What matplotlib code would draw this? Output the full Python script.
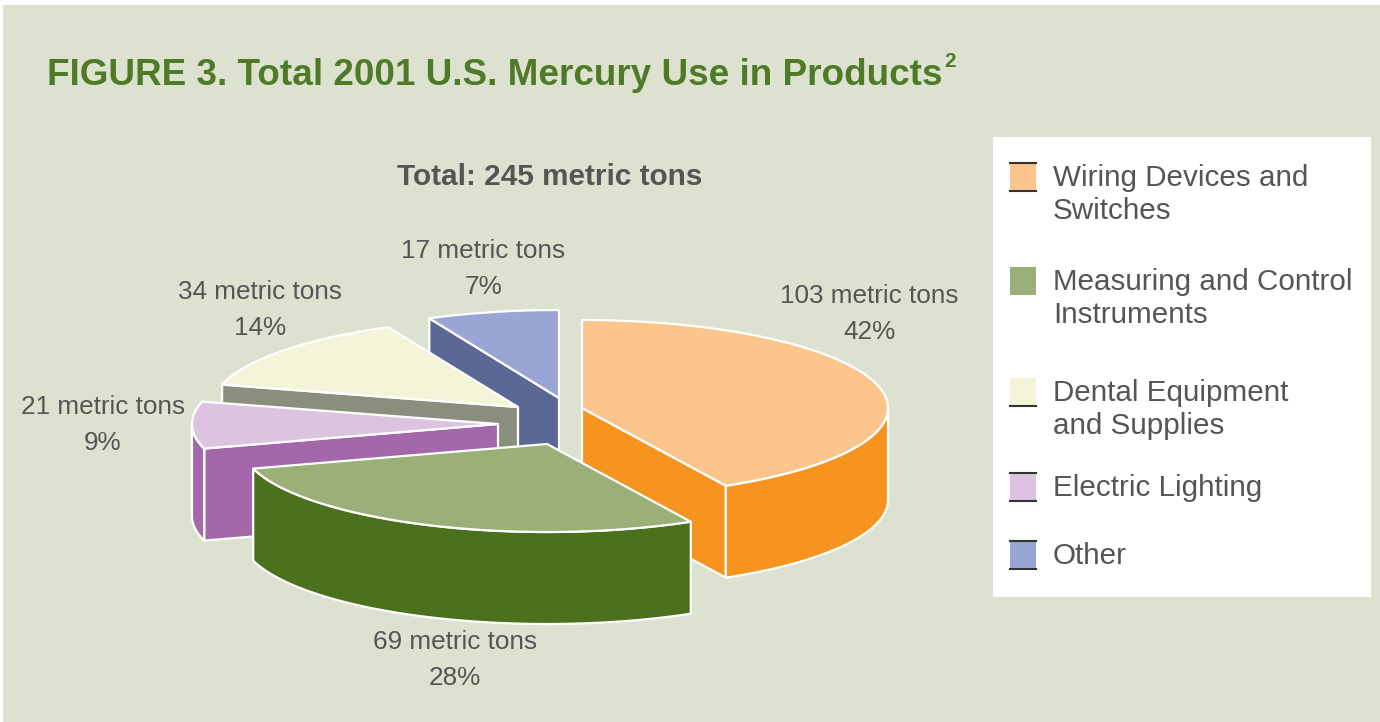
import numpy as np
import matplotlib
matplotlib.use("Agg")
import matplotlib.pyplot as plt
from matplotlib.patches import Polygon, Rectangle

# data (legend order)
categories = ['Wiring Devices and\nSwitches', 'Measuring and Control\nInstruments',
              'Dental Equipment\nand Supplies', 'Electric Lighting', 'Other']
tons = [103, 69, 34, 21, 17]
pct = [42, 28, 14, 9, 7]
total_tons = 245
pie_order = [0, 1, 3, 2, 4]   # clockwise from 12 o'clock

top_col = ['#FCC58B', '#9BAF79', '#F4F4D8', '#DCC4E1', '#99A5D4']
side_col = ['#F7941F', '#4B711D', '#8A8E7D', '#A467A9', '#5B6896']
key_edges = [(True, True), (False, False), (False, True), (True, True), (True, True)]

# layout (pixel units)
W, H = 1380, 722
pie_c = (540, 420)
R, RY, DEPTH = 306, 88, 92
explode = [(42, -12), (7, 24), (-22, -13), (-42, 4), (19, -22)]
label_xy = [(869, 294), (455, 640), (260, 290), (103, 405), (483, 249)]
legend_y = [177, 281, 392, 487, 555]

bg = '#DCE2CF'
txt_col = '#555555'
green = '#4F7A28'

plt.rcParams['font.family'] = ['Liberation Sans', 'DejaVu Sans']

fig = plt.figure(figsize=(W / 100, H / 100), dpi=100)
fig.patch.set_facecolor('white')
ax = fig.add_axes([0, 0, 1, 1])
ax.set_xlim(0, W)
ax.set_ylim(H, 0)
ax.set_axis_off()
ax.add_patch(Rectangle((3, 5), W, H, facecolor=bg, edgecolor='none', zorder=0))


def arc(cx, cy, t0, t1, dz=0, n=80):
    t = np.radians(np.linspace(t0, t1, n))
    return np.column_stack([cx + R * np.sin(t), cy - RY * np.cos(t) + dz])


def face(pts, color, z):
    ax.add_patch(Polygon(pts, closed=True, facecolor=color, edgecolor='white',
                         lw=1.6, joinstyle='round', zorder=z))


# slice angles
fr = np.array(tons, dtype=float) / sum(tons) * 360
angles = {}
a = 0.0
for i in pie_order:
    angles[i] = (a, a + fr[i])
    a += fr[i]

# back to front
order = sorted(range(len(tons)), key=lambda i: -np.cos(np.radians(np.mean(angles[i]))))
z = 2
for i in order:
    a0, a1 = angles[i]
    cx = pie_c[0] + explode[i][0]
    cy = pie_c[1] + explode[i][1]
    ctop = np.array([cx, cy])
    cbot = np.array([cx, cy + DEPTH])
    # radial faces
    for ang, vis in ((a0, np.sin(np.radians(a0)) < -0.01), (a1, np.sin(np.radians(a1)) > 0.01)):
        if vis:
            p = arc(cx, cy, ang, ang, n=1)[0]
            face([ctop, p, p + [0, DEPTH], cbot], side_col[i], z)
            z += 1
    # outer wall
    s0, s1 = max(a0, 90), min(a1, 270)
    if s1 > s0:
        up = arc(cx, cy, s0, s1)
        dn = arc(cx, cy, s0, s1, dz=DEPTH)[::-1]
        face(np.vstack([up, dn]), side_col[i], z)
        z += 1
    # top
    face(np.vstack([ctop, arc(cx, cy, a0, a1)]), top_col[i], z)
    z += 1

# data labels
for i in range(len(tons)):
    x, y = label_xy[i]
    ax.text(x, y + 9, f'{tons[i]} metric tons', ha='center', va='baseline',
            fontsize=18.8, color=txt_col, zorder=50)
    ax.text(x, y + 45, f'{pct[i]}%', ha='center', va='baseline',
            fontsize=18.8, color=txt_col, zorder=50)

ax.text(550, 185, f'Total: {total_tons} metric tons', ha='center', va='baseline',
        fontsize=21.4, fontweight='bold', color=txt_col, zorder=50)

# title
t = ax.text(47, 85, 'FIGURE 3. Total 2001 U.S. Mercury Use in Products', ha='left',
            va='baseline', fontsize=26.6, fontweight='bold', color=green, zorder=50)
fig.canvas.draw()
bb = t.get_window_extent()
x_end = ax.transData.inverted().transform((bb.x1, bb.y0))[0]
ax.text(x_end + 2, 67, '2', ha='left', va='baseline', fontsize=15, fontweight='bold',
        color=green, zorder=50)

# legend
ax.add_patch(Rectangle((993, 137), 378, 460, facecolor='white', edgecolor='none', zorder=40))
for i in range(len(categories)):
    y = legend_y[i]
    ax.add_patch(Rectangle((1010, y - 14), 26, 28, facecolor=top_col[i], edgecolor='none', zorder=41))
    if key_edges[i][0]:
        ax.plot([1010, 1036], [y - 14, y - 14], color='#333333', lw=1.5, zorder=42)
    if key_edges[i][1]:
        ax.plot([1010, 1036], [y + 14, y + 14], color='#333333', lw=1.5, zorder=42)
    for k, line in enumerate(categories[i].split('\n')):
        ax.text(1053, y + 9 + 33 * k, line, ha='left', va='baseline', fontsize=21.3,
                color=txt_col, zorder=43)

fig.savefig('out.png', dpi=100, facecolor=fig.get_facecolor())
